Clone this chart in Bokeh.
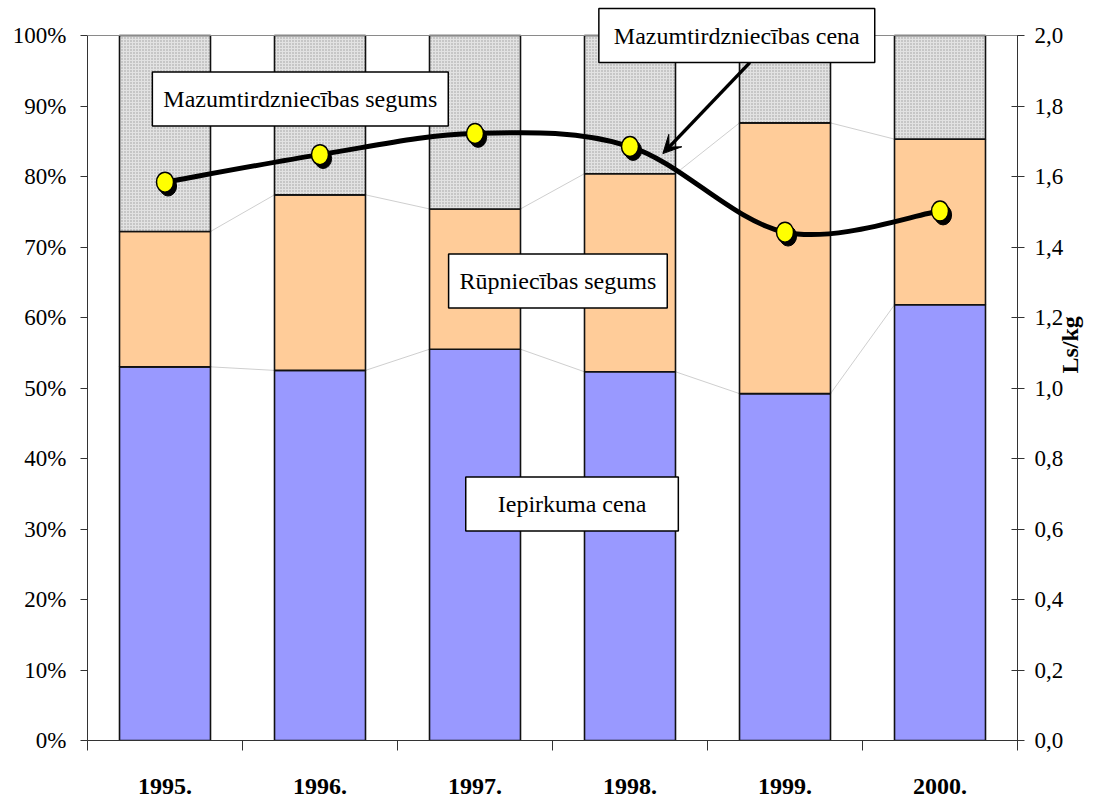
import math
from bokeh.plotting import figure
from bokeh.models import (Range1d, LinearAxis, FixedTicker, CustomJSTickFormatter,
                          ColumnDataSource, Label, Arrow, VeeHead, Span)
from bokeh.transform import dodge
from bokeh.embed import file_html
from bokeh.resources import INLINE

# ---------------- data ----------------
years = ["1995.", "1996.", "1997.", "1998.", "1999.", "2000."]
iepirkuma = [53.0, 52.5, 55.5, 52.3, 49.2, 61.8]      # Iepirkuma cena, %
rupniecibas = [19.2, 24.9, 19.9, 28.1, 38.4, 23.5]    # Rūpniecības segums, %
mazumtirdz = [27.8, 22.6, 24.6, 19.6, 12.4, 14.7]     # Mazumtirdzniecības segums, %
cena = [1.584, 1.662, 1.722, 1.685, 1.442, 1.502]     # Mazumtirdzniecības cena, Ls/kg
left_ticks = [0, 10, 20, 30, 40, 50, 60, 70, 80, 90, 100]
right_ticks = [0.0, 0.2, 0.4, 0.6, 0.8, 1.0, 1.2, 1.4, 1.6, 1.8, 2.0]

FONT = "Liberation Serif"
n = len(years)
xs = [i + 0.5 for i in range(n)]
BAR_W = 0.587

# frame extends a bit above the 100 % line so that the top text box is not clipped
PLOT_H = 705          # pixels for 0..100 %
FRAME_H = 734
y_top = 100 * FRAME_H / PLOT_H
r_top = 2 * FRAME_H / PLOT_H

src = ColumnDataSource(dict(x=xs, iep=iepirkuma, rup=rupniecibas, maz=mazumtirdz, cena=cena))

p = figure(width=1099, height=797, output_backend="svg", toolbar_location=None,
           x_range=Range1d(0, n), y_range=Range1d(0, y_top),
           min_border_left=87, min_border_right=81, min_border_top=6, min_border_bottom=57)
p.extra_y_ranges = {"right": Range1d(0, r_top)}
p.xgrid.visible = False
p.ygrid.visible = False
p.outline_line_color = None
p.background_fill_color = "white"
p.border_fill_color = "white"

# top border of the plot area (100 % line)
p.add_layout(Span(location=100, dimension="width", line_color="#8a8a8a", line_width=1))

# series connector lines
top1 = iepirkuma
top2 = [a + b for a, b in zip(iepirkuma, rupniecibas)]
for tops in (top1, top2):
    p.segment(x0=[xs[i] + BAR_W / 2 for i in range(n - 1)], y0=tops[:-1],
              x1=[xs[i + 1] - BAR_W / 2 for i in range(n - 1)], y1=tops[1:],
              line_color="#cfcfcf", line_width=1)

# stacked bars
p.vbar_stack(["iep", "rup", "maz"], x="x", width=BAR_W, source=src,
             fill_color=["#9999ff", "#ffcc99", "#e2e2e2"],
             hatch_pattern=[" ", " ", "dot"], hatch_color="#9a9a9a", hatch_scale=3,
             line_color="#111111", line_width=1.6)

# smoothed price line (Catmull-Rom -> bezier)
bx0, by0, bx1, by1, cx0, cy0, cx1, cy1 = [], [], [], [], [], [], [], []
for i in range(n - 1):
    pm = i - 1 if i > 0 else i
    p2 = i + 2 if i + 2 < n else i + 1
    bx0.append(xs[i]); by0.append(cena[i])
    bx1.append(xs[i + 1]); by1.append(cena[i + 1])
    cx0.append(xs[i] + (xs[i + 1] - xs[pm]) / 6); cy0.append(cena[i] + (cena[i + 1] - cena[pm]) / 6)
    cx1.append(xs[i + 1] - (xs[p2] - xs[i]) / 6); cy1.append(cena[i + 1] - (cena[p2] - cena[i]) / 6)
p.bezier(x0=bx0, y0=by0, x1=bx1, y1=by1, cx0=cx0, cy0=cy0, cx1=cx1, cy1=cy1,
         line_color="black", line_width=5, line_cap="round", y_range_name="right")

# markers with shadow
p.ellipse(x=dodge("x", 0.02), y=dodge("cena", -0.011), width=17, height=20,
          width_units="screen", height_units="screen", source=src,
          fill_color="black", line_color="black", y_range_name="right")
p.ellipse(x="x", y="cena", width=17, height=20,
          width_units="screen", height_units="screen", source=src,
          fill_color="#ffff00", line_color="black", line_width=1.5, y_range_name="right")

# axes
xa = p.xaxis[0]
xa.ticker = FixedTicker(ticks=xs, minor_ticks=list(range(n + 1)))
xa.major_label_overrides = {x: y for x, y in zip(xs, years)}
xa.major_tick_line_color = None
xa.major_tick_out = 0
xa.major_tick_in = 0
xa.minor_tick_out = 10
xa.minor_tick_in = 0
xa.minor_tick_line_color = "#333333"
xa.axis_line_color = "#333333"
xa.major_label_text_font = FONT
xa.major_label_text_font_size = "24px"
xa.major_label_text_font_style = "bold"
xa.major_label_text_color = "black"
xa.major_label_standoff = 28

ya = p.yaxis[0]
ya.bounds = (0, 100)
ya.ticker = FixedTicker(ticks=left_ticks, minor_ticks=[])
ya.formatter = CustomJSTickFormatter(code="return tick.toFixed(0) + '%';")
ya.major_tick_out = 7
ya.major_tick_in = 0
ya.major_tick_line_color = "#333333"
ya.axis_line_color = "#333333"
ya.major_label_text_font = FONT
ya.major_label_text_font_size = "23px"
ya.major_label_text_color = "black"
ya.major_label_standoff = 14

ra = LinearAxis(y_range_name="right", bounds=(0, 2))
ra.ticker = FixedTicker(ticks=right_ticks, minor_ticks=[])
ra.formatter = CustomJSTickFormatter(code="return tick.toFixed(1).replace('.', ',');")
ra.major_tick_out = 7
ra.major_tick_in = 6
ra.major_tick_line_color = "#333333"
ra.axis_line_color = "#333333"
ra.major_label_text_font = FONT
ra.major_label_text_font_size = "23px"
ra.major_label_text_color = "black"
ra.major_label_standoff = 10
ra.axis_label = "Ls/kg"
ra.axis_label_text_font = FONT
ra.axis_label_text_font_size = "24px"
ra.axis_label_text_font_style = "bold"
ra.axis_label_text_color = "black"
ra.axis_label_standoff = 4
try:
    ra.axis_label_orientation = math.pi / 2
except Exception:
    pass
p.add_layout(ra, "right")

# arrow to the price line
p.add_layout(Arrow(end=VeeHead(size=18, fill_color="black", line_color="black", line_width=1),
                   x_start=4.273, y_start=1.923, x_end=3.712, y_end=1.665,
                   y_range_name="right", line_color="black", line_width=3.5))

# text boxes
def box(x, y, text, pad_h=14, pad_v=14):
    p.add_layout(Label(x=x, y=y, text=text, text_align="center", text_baseline="middle",
                       text_font=FONT, text_font_size="24px", text_color="black",
                       background_fill_color="white", border_line_color="black",
                       border_line_width=1.5,
                       padding=dict(left=pad_h, right=pad_h, top=pad_v, bottom=pad_v)))

box(1.373, 91.0, "Mazumtirdzniecības segums", pad_h=11)
box(4.189, 100.0, "Mazumtirdzniecības cena", pad_h=15)
box(3.035, 65.18, "Rūpniecības segums", pad_h=11)
box(3.126, 33.55, "Iepirkuma cena", pad_h=32)

open("out.html", "w").write(file_html(p, INLINE))
